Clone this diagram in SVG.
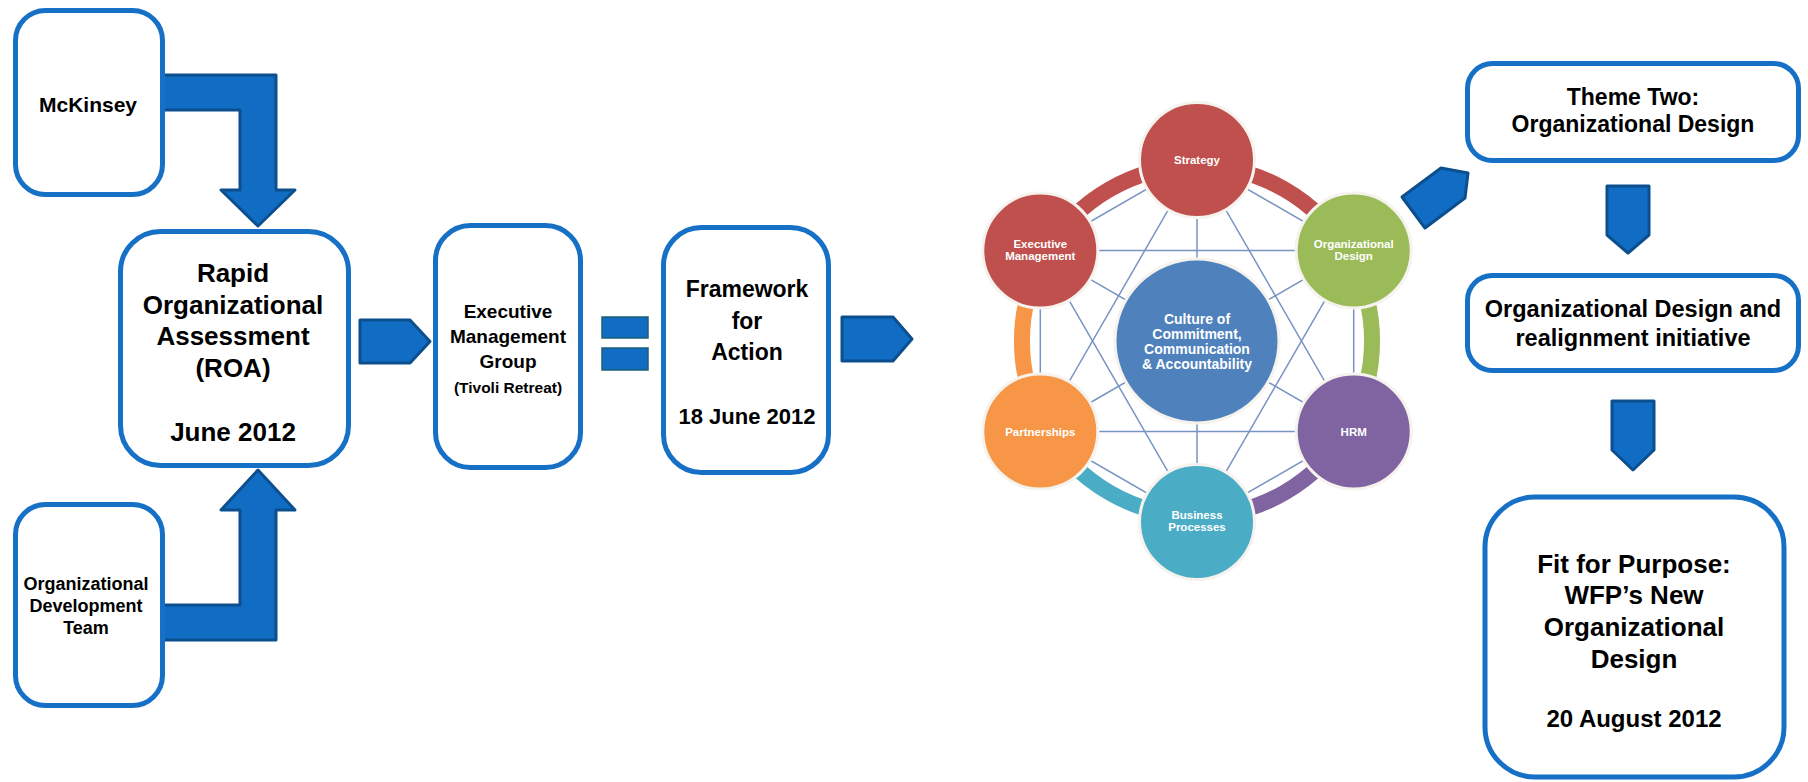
<svg xmlns="http://www.w3.org/2000/svg" width="1808" height="782" viewBox="0 0 1808 782">
<style>
.box{fill:#fff;stroke:#1570c6;stroke-width:5}
.arr{fill:#116dc4;stroke:#0c4f8e;stroke-width:3;stroke-linejoin:round}
.eq{fill:#116dc4;stroke:#1d5f73;stroke-width:1.5}
.t{font-family:"Liberation Sans",Arial,sans-serif;font-weight:bold;fill:#000;text-anchor:middle}
.w{font-family:"Liberation Sans",Arial,sans-serif;font-weight:bold;fill:#fff;text-anchor:middle}
.lk{stroke:#7894c2;stroke-width:1.5;fill:none}
.arc{fill:none;stroke-width:16}
.c{stroke:#f6f3ee;stroke-width:3}
</style>
<rect width="1808" height="782" fill="#fff"/>

<g id="connectors">
  <path class="arr" d="M162 75 L276 75 L276 190 L295 190 L258 226 L221 190 L240 190 L240 110 L162 110 Z"/>
  <path class="arr" d="M162 640 L276 640 L276 510 L295 510 L258 470 L221 510 L240 510 L240 605 L162 605 Z"/>
  <path class="arr" d="M360 320 L410 320 L430 341.5 L410 363 L360 363 Z"/>
  <rect class="eq" x="602" y="317" width="46" height="21"/>
  <rect class="eq" x="602" y="348" width="46" height="22"/>
  <path class="arr" d="M842 317 L893 317 L912 339 L893 361 L842 361 Z"/>
  <path class="arr" d="M1402 197 L1441 168 L1468 173 L1465 198 L1425 228 Z"/>
  <path class="arr" d="M1607 186 L1649 186 L1649 235 L1628 253 L1607 235 Z"/>
  <path class="arr" d="M1612 401 L1654 401 L1654 450 L1633 470 L1612 450 Z"/>
</g>

<g id="mckinsey">
  <rect class="box" x="15.5" y="10.5" width="147" height="184" rx="30"/>
  <text class="t" x="88" y="112" font-size="21">McKinsey</text>
</g>

<g id="odt">
  <rect class="box" x="15.5" y="504.5" width="147" height="201" rx="30"/>
  <text class="t" x="86" y="590" font-size="18">Organizational</text>
  <text class="t" x="86" y="612" font-size="18">Development</text>
  <text class="t" x="86" y="634" font-size="18">Team</text>
</g>

<g id="roa">
  <rect class="box" x="120.5" y="231.5" width="228" height="234" rx="40"/>
  <text class="t" x="233" y="282" font-size="26">Rapid</text>
  <text class="t" x="233" y="313.5" font-size="26">Organizational</text>
  <text class="t" x="233" y="345" font-size="26">Assessment</text>
  <text class="t" x="233" y="376.5" font-size="26">(ROA)</text>
  <text class="t" x="233" y="441" font-size="26">June 2012</text>
</g>

<g id="emg">
  <rect class="box" x="435.5" y="225.5" width="145" height="242" rx="35"/>
  <text class="t" x="508" y="318" font-size="19">Executive</text>
  <text class="t" x="508" y="343" font-size="19">Management</text>
  <text class="t" x="508" y="368" font-size="19">Group</text>
  <text class="t" x="508" y="393" font-size="15.5">(Tivoli Retreat)</text>
</g>

<g id="framework">
  <rect class="box" x="663.5" y="227.5" width="165" height="245" rx="38"/>
  <text class="t" x="747" y="297" font-size="23">Framework</text>
  <text class="t" x="747" y="328.5" font-size="23">for</text>
  <text class="t" x="747" y="360" font-size="23">Action</text>
  <text class="t" x="747" y="424" font-size="22">18 June 2012</text>
</g>

<g id="culture-wheel">
  <g id="links">
    <path class="lk" d="M1197 160 L1353.7 250.5 L1353.7 431.5 L1197 522 L1040.3 431.5 L1040.3 250.5 Z"/>
    <path class="lk" d="M1197 160 L1353.7 431.5 L1040.3 431.5 Z"/>
    <path class="lk" d="M1197 522 L1353.7 250.5 L1040.3 250.5 Z"/>
    <path class="lk" d="M1197 160 L1197 522 M1353.7 250.5 L1040.3 431.5 M1353.7 431.5 L1040.3 250.5"/>
  </g>
  <g id="arcs">
    <path class="arc" stroke="#c0504d" d="M1197 166 A175 175 0 0 1 1348.6 253.5"/>
    <path class="arc" stroke="#9bbb59" d="M1348.6 253.5 A175 175 0 0 1 1348.6 428.5"/>
    <path class="arc" stroke="#8064a2" d="M1348.6 428.5 A175 175 0 0 1 1197 516"/>
    <path class="arc" stroke="#4bacc6" d="M1197 516 A175 175 0 0 1 1045.4 428.5"/>
    <path class="arc" stroke="#f79646" d="M1045.4 428.5 A175 175 0 0 1 1045.4 253.5"/>
    <path class="arc" stroke="#c0504d" d="M1045.4 253.5 A175 175 0 0 1 1197 166"/>
  </g>
  <g id="center">
    <circle class="c" cx="1197" cy="341" r="82" fill="#4f81bd"/>
    <text class="w" x="1197" y="324" font-size="14">Culture of</text>
    <text class="w" x="1197" y="339" font-size="14">Commitment,</text>
    <text class="w" x="1197" y="354" font-size="14">Communication</text>
    <text class="w" x="1197" y="369" font-size="14">&amp; Accountability</text>
  </g>
  <g id="strategy">
    <circle class="c" cx="1197" cy="160" r="57.5" fill="#c0504d"/>
    <text class="w" x="1197" y="164" font-size="11.5">Strategy</text>
  </g>
  <g id="org-design">
    <circle class="c" cx="1353.7" cy="250.5" r="57.5" fill="#9bbb59"/>
    <text class="w" x="1353.7" y="248" font-size="11.5">Organizational</text>
    <text class="w" x="1353.7" y="260" font-size="11.5">Design</text>
  </g>
  <g id="hrm">
    <circle class="c" cx="1353.7" cy="431.5" r="57.5" fill="#8064a2"/>
    <text class="w" x="1353.7" y="435.5" font-size="11.5">HRM</text>
  </g>
  <g id="business-processes">
    <circle class="c" cx="1197" cy="522" r="57.5" fill="#4bacc6"/>
    <text class="w" x="1197" y="519" font-size="11.5">Business</text>
    <text class="w" x="1197" y="531" font-size="11.5">Processes</text>
  </g>
  <g id="partnerships">
    <circle class="c" cx="1040.3" cy="431.5" r="57.5" fill="#f79646"/>
    <text class="w" x="1040.3" y="435.5" font-size="11.5">Partnerships</text>
  </g>
  <g id="exec-mgmt">
    <circle class="c" cx="1040.3" cy="250.5" r="57.5" fill="#c0504d"/>
    <text class="w" x="1040.3" y="248" font-size="11.5">Executive</text>
    <text class="w" x="1040.3" y="260" font-size="11.5">Management</text>
  </g>
</g>

<g id="theme-two">
  <rect class="box" x="1467.5" y="63.5" width="331" height="97" rx="25"/>
  <text class="t" x="1633" y="105" font-size="23">Theme Two:</text>
  <text class="t" x="1633" y="132" font-size="23">Organizational Design</text>
</g>

<g id="realignment">
  <rect class="box" x="1467.5" y="275.5" width="331" height="95" rx="25"/>
  <text class="t" x="1633" y="317" font-size="23.5">Organizational Design and</text>
  <text class="t" x="1633" y="346" font-size="23.5">realignment initiative</text>
</g>

<g id="fit-for-purpose">
  <rect class="box" x="1485" y="497" width="299" height="280" rx="50"/>
  <text class="t" x="1634" y="573" font-size="26">Fit for Purpose:</text>
  <text class="t" x="1634" y="604" font-size="26">WFP’s New</text>
  <text class="t" x="1634" y="636" font-size="26">Organizational</text>
  <text class="t" x="1634" y="668" font-size="26">Design</text>
  <text class="t" x="1634" y="727" font-size="24">20 August 2012</text>
</g>
</svg>
